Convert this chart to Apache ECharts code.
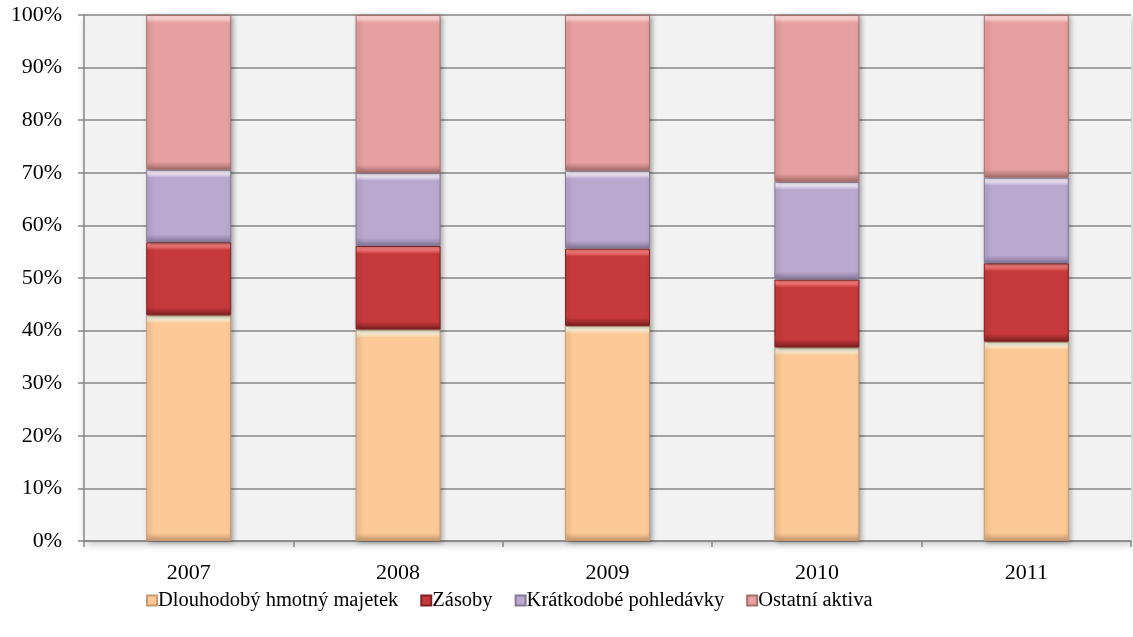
<!DOCTYPE html>
<html>
<head>
<meta charset="utf-8">
<script src="https://cdn.jsdelivr.net/npm/echarts@6/dist/echarts.min.js"></script>
<style>
  html, body { margin: 0; padding: 0; background: #ffffff; }
  #chart { width: 1133px; height: 637px; }
</style>
</head>
<body>
<div id="chart"></div>
<script>
// Struktura aktiv podle let (podíl v %)
const years = ['2007', '2008', '2009', '2010', '2011'];
const dlouhodobyMajetek = [42.9, 40.2, 40.9, 36.8, 37.9];
const zasoby = [13.9, 15.9, 14.7, 12.9, 14.9];
const kratkodobePohledavky = [13.8, 13.9, 14.8, 18.6, 16.3];
const ostatniAktiva = [29.4, 30.0, 29.6, 31.7, 30.9];
const yTicks = [0, 10, 20, 30, 40, 50, 60, 70, 80, 90, 100];

const seriesDefs = [
  { name: 'Dlouhodobý hmotný majetek', data: dlouhodobyMajetek, base: '#fcc997', light: '#fffbe2', dark: '#c99a70' },
  { name: 'Zásoby', data: zasoby, base: '#c63a3b', light: '#ff8080', dark: '#7e1f21' },
  { name: 'Krátkodobé pohledávky', data: kratkodobePohledavky, base: '#baa8cf', light: '#fbf2ff', dark: '#857899' },
  { name: 'Ostatní aktiva', data: ostatniAktiva, base: '#e6a09f', light: '#ffd6d6', dark: '#a86e6c' }
];

const chart = echarts.init(document.getElementById('chart'));
const PX_PER_PCT = 5.26; // plot height / 100
const BEVEL = 8;

// Bevelled look: light top band, dark bottom band, sized in pixels per segment
function bevelStyle(def, v) {
  const h = Math.max(v * PX_PER_PCT, 1);
  const b = Math.min(BEVEL / h, 0.3);
  return {
    color: new echarts.graphic.LinearGradient(0, 0, 0, 1, [
      { offset: 0, color: def.light },
      { offset: b * 0.45, color: def.light },
      { offset: b, color: def.base },
      { offset: 1 - b, color: def.base },
      { offset: 1, color: def.dark }
    ]),
    borderColor: def.dark,
    borderWidth: 1,
    shadowColor: 'rgba(0,0,0,0.35)',
    shadowBlur: 5,
    shadowOffsetX: 2,
    shadowOffsetY: 1
  };
}

const series = seriesDefs.map(def => ({
  name: def.name,
  type: 'bar',
  stack: 'total',
  barWidth: 85,
  data: def.data.map(v => ({ value: v, itemStyle: bevelStyle(def, v) })),
  itemStyle: { color: def.base, borderColor: def.dark, borderWidth: 1 }
}));

const fontFamily = '"Liberation Serif", "Times New Roman", serif';

chart.setOption({
  animation: false,
  textStyle: { fontFamily: fontFamily },
  grid: {
    left: 84, right: 2, top: 15, bottom: 96,
    show: true, backgroundColor: '#f2f2f2', borderWidth: 0,
    shadowColor: 'rgba(0,0,0,0.25)', shadowBlur: 8, shadowOffsetX: 2, shadowOffsetY: 3
  },
  legend: {
    top: 585,
    left: 141,
    itemWidth: 10,
    itemHeight: 10,
    itemGap: 22,
    icon: 'rect',
    textStyle: { fontFamily: fontFamily, fontSize: 20.5, color: '#000', padding: [0, 0, 0, -4] },
    data: seriesDefs.map(d => d.name)
  },
  xAxis: {
    type: 'category',
    data: years,
    axisLine: { lineStyle: { color: '#868686', width: 1.5 } },
    axisTick: { show: true, length: 6, lineStyle: { color: '#868686', width: 1.5 } },
    axisLabel: { color: '#000', fontFamily: fontFamily, fontSize: 22, margin: 21 }
  },
  yAxis: {
    type: 'value',
    min: 0, max: 100, interval: 10,
    axisLine: { show: true, lineStyle: { color: '#868686', width: 1.5 } },
    axisTick: { show: true, length: 6, lineStyle: { color: '#868686', width: 1.5 } },
    splitLine: { lineStyle: { color: '#868686', width: 1.5 } },
    axisLabel: {
      color: '#000', fontFamily: fontFamily, fontSize: 22, margin: 22,
      formatter: v => (yTicks.includes(v) ? v + '%' : '')
    }
  },
  series: series
});
</script>
</body>
</html>
